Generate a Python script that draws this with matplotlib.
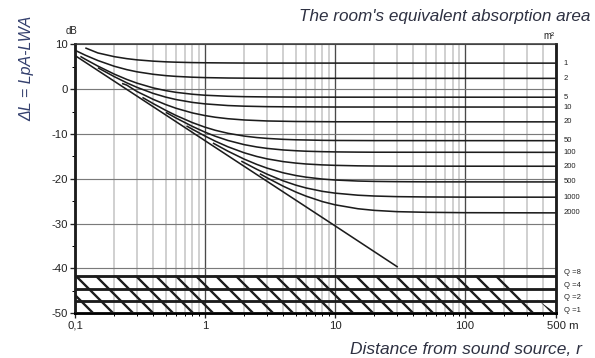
import matplotlib
matplotlib.use('Agg')
import matplotlib.pyplot as plt
import matplotlib.ticker as mticker
from matplotlib.transforms import ScaledTranslation, blended_transform_factory

plt.rcParams['font.family'] = ['Liberation Sans', 'DejaVu Sans']
plt.rcParams['hatch.linewidth'] = 1.4

# Level curves: distance r (m) -> delta L (dB), one per absorption area
area_labels = ['1', '2', '5', '10', '20', '50', '100', '200', '500', '1000', '2000']

r_a1 = [0.12, 0.15, 0.2, 0.25, 0.3, 0.4, 0.5, 0.6, 0.8, 1, 1.5, 2, 3, 500]
db_a1 = [9.2, 8.07, 7.25, 6.8, 6.53, 6.24, 6.09, 6.01, 5.92, 5.88, 5.84, 5.82, 5.81, 5.8]

r_a2 = [0.1, 0.12, 0.15, 0.2, 0.25, 0.3, 0.4, 0.5, 0.6, 0.8, 1, 1.5, 2, 3, 5, 500]
db_a2 = [8.67, 7.57, 6.38, 5.11, 4.35, 3.86, 3.31, 3.01, 2.84, 2.66, 2.57, 2.48, 2.45, 2.42, 2.41, 2.4]

r_a5 = [0.11, 0.12, 0.15, 0.2, 0.25, 0.3, 0.4, 0.5, 0.6, 0.8, 1, 1.5, 2, 3, 5, 10, 500]
db_a5 = [7.3, 6.66, 5.14, 3.36, 2.17, 1.33, 0.27, -0.34, -0.72, -1.14, -1.36, -1.59, -1.68, -1.74, -1.78, -1.79, -1.8]

r_a10 = [0.15, 0.2, 0.25, 0.3, 0.4, 0.5, 0.6, 0.8, 1, 1.5, 2, 3, 5, 10, 500]
db_a10 = [4.77, 2.8, 1.41, 0.39, -0.96, -1.79, -2.33, -2.96, -3.29, -3.66, -3.8, -3.91, -3.96, -3.99, -4.0]

r_a20 = [0.23, 0.25, 0.3, 0.4, 0.5, 0.6, 0.8, 1, 1.2, 1.5, 2, 3, 5, 10, 500]
db_a20 = [1.27, 0.9, -0.54, -2.29, -3.46, -4.28, -5.31, -5.9, -6.27, -6.6, -6.88, -7.1, -7.22, -7.28, -7.3]

r_a50 = [0.33, 0.4, 0.5, 0.6, 0.8, 1, 1.2, 1.5, 2, 2.5, 3, 4, 5, 8, 10, 20, 500]
db_a50 = [-1.85, -3.24, -4.75, -5.89, -7.47, -8.49, -9.18, -9.85, -10.47, -10.8, -10.99, -11.2, -11.3,
          -11.42, -11.45, -11.48, -11.5]

r_a100 = [0.5, 0.6, 0.8, 1, 1.2, 1.5, 2, 2.5, 3, 4, 5, 6, 8, 10, 15, 20, 500]
db_a100 = [-5.18, -6.46, -8.32, -9.6, -10.51, -11.45, -12.38, -12.9, -13.22, -13.57, -13.74, -13.85,
           -13.95, -14.0, -14.05, -14.07, -14.1]

r_a200 = [0.72, 0.8, 1, 1.2, 1.5, 2, 2.5, 3, 4, 5, 6, 8, 10, 15, 20, 30, 500]
db_a200 = [-8.2, -8.95, -10.47, -11.61, -12.86, -14.2, -15.02, -15.55, -16.17, -16.5, -16.7, -16.9,
           -17.0, -17.11, -17.15, -17.18, -17.2]

r_a500 = [1.15, 1.5, 2, 2.5, 3, 4, 5, 6, 8, 10, 15, 20, 30, 50, 500]
db_a500 = [-12.02, -13.84, -15.61, -16.79, -17.62, -18.67, -19.27, -19.64, -20.06, -20.27, -20.5,
           -20.58, -20.64, -20.68, -20.7]

r_a1000 = [1.9, 2.5, 3, 4, 5, 6, 8, 10, 15, 20, 30, 50, 100, 500]
db_a1000 = [-16.06, -17.88, -18.97, -20.47, -21.42, -22.05, -22.8, -23.2, -23.66, -23.84, -23.98,
            -24.05, -24.09, -24.1]

r_a2000 = [2.64, 3, 4, 5, 6, 8, 10, 15, 20, 30, 50, 100, 500]
db_a2000 = [-18.88, -19.78, -21.66, -22.96, -23.88, -25.09, -25.8, -26.68, -27.04, -27.33, -27.47,
            -27.56, -27.6]

# free-field (direct sound) line
r_direct = [0.1, 1, 10, 30]
db_direct = [7.5, -11.5, -30.5, -39.6]

# directivity bands at the bottom
q_labels = ['Q =8', 'Q =4', 'Q =2', 'Q =1']
q_db = [-41.6, -44.6, -47.2, -50.0]
hatch_r = [0.1, 200, 500, 0.1]
hatch_db = [-41.6, -41.6, -50.0, -50.0]

x_ticks = [0.1, 1, 10, 100, 500]
x_labels = ['0,1', '1', '10', '100', '500 m']
y_ticks = [-50, -40, -30, -20, -10, 0, 10]
y_labels = ['-50', '-40', '-30', '-20', '-10', '0', '10']

curves_r = [r_a1, r_a2, r_a5, r_a10, r_a20, r_a50, r_a100, r_a200, r_a500, r_a1000, r_a2000]
curves_db = [db_a1, db_a2, db_a5, db_a10, db_a20, db_a50, db_a100, db_a200, db_a500, db_a1000, db_a2000]

ink = '#1c1c1c'
dpi = 120
fig = plt.figure(figsize=(595 / dpi, 358 / dpi), dpi=dpi)
ax = fig.add_axes([75 / 595, 44.7 / 358, 481 / 595, 269 / 358])
ax.set_xscale('log')
ax.set_xlim(0.1, 500)
ax.set_ylim(-50, 10)

# grid
ax.set_axisbelow(True)
ax.xaxis.set_minor_locator(mticker.LogLocator(base=10, subs=range(2, 10), numticks=20))
ax.xaxis.set_minor_formatter(mticker.NullFormatter())
ax.grid(True, which='minor', axis='x', color='#c2c2c2', lw=0.9)
ax.grid(True, which='major', axis='x', color='#4a4a4a', lw=0.8)
ax.grid(True, which='major', axis='y', color='#7a7a7a', lw=0.7)

# hatched Q bands
ax.fill(hatch_r, hatch_db, facecolor='none', edgecolor=ink, hatch='\\\\', lw=0, zorder=2)
for y in q_db:
    ax.axhline(y, color=ink, lw=1.7, zorder=3)

# curves
for r, db in zip(curves_r, curves_db):
    ax.plot(r, db, color=ink, lw=0.95, zorder=3, solid_capstyle='butt')
ax.plot(r_direct, db_direct, color=ink, lw=0.95, zorder=3)

# ticks
ax.set_xticks(x_ticks)
ax.set_xticklabels(x_labels)
ax.set_yticks(y_ticks)
ax.set_yticklabels(y_labels)
ax.set_yticks(range(-45, 10, 10), minor=True)
ax.tick_params(axis='both', which='major', direction='out', length=3, width=0.8,
               labelsize=6.8, pad=1.5, colors='#222222')
ax.tick_params(axis='both', which='minor', direction='out', length=2, width=0.6)
last = ax.get_xticklabels()[-1]
last.set_transform(last.get_transform() + ScaledTranslation(7 / dpi, 0, fig.dpi_scale_trans))

for side in ['left', 'right']:
    ax.spines[side].set_linewidth(1.7)
    ax.spines[side].set_color(ink)
ax.spines['top'].set_linewidth(0.9)
ax.spines['top'].set_color('#333333')
ax.spines['bottom'].set_linewidth(1.7)

# right-hand labels
tr = blended_transform_factory(ax.transAxes, ax.transData)
for lab, db in zip(area_labels, curves_db):
    ax.text(1.016, db[-1], lab, transform=tr, ha='left', va='center', fontsize=4.6, color='#222222')
for lab, y in zip(q_labels, q_db):
    ax.text(1.016, y + 0.7, lab, transform=tr, ha='left', va='center', fontsize=4.6, color='#222222')

fig.text(549 / 595, 1 - 36 / 358, 'm²', ha='center', va='center', fontsize=5.8, color='#222222')
fig.text(71 / 595, 1 - 31 / 358, 'dB', ha='center', va='center', fontsize=5.8, color='#222222')
fig.text(590 / 595, 1 - 17 / 358, "The room's equivalent absorption area", ha='right', va='center',
         fontsize=10.3, style='italic', color='#2e3142')
fig.text(582 / 595, 1 - 349 / 358, 'Distance from sound source, r', ha='right', va='center',
         fontsize=10.4, style='italic', color='#2e3142')
fig.text(27 / 595, 1 - 68 / 358, 'ΔL = LpA-LWA', ha='center', va='center', rotation=90,
         fontsize=9.6, style='italic', color='#34406e')

fig.savefig('out.png', dpi=dpi)
